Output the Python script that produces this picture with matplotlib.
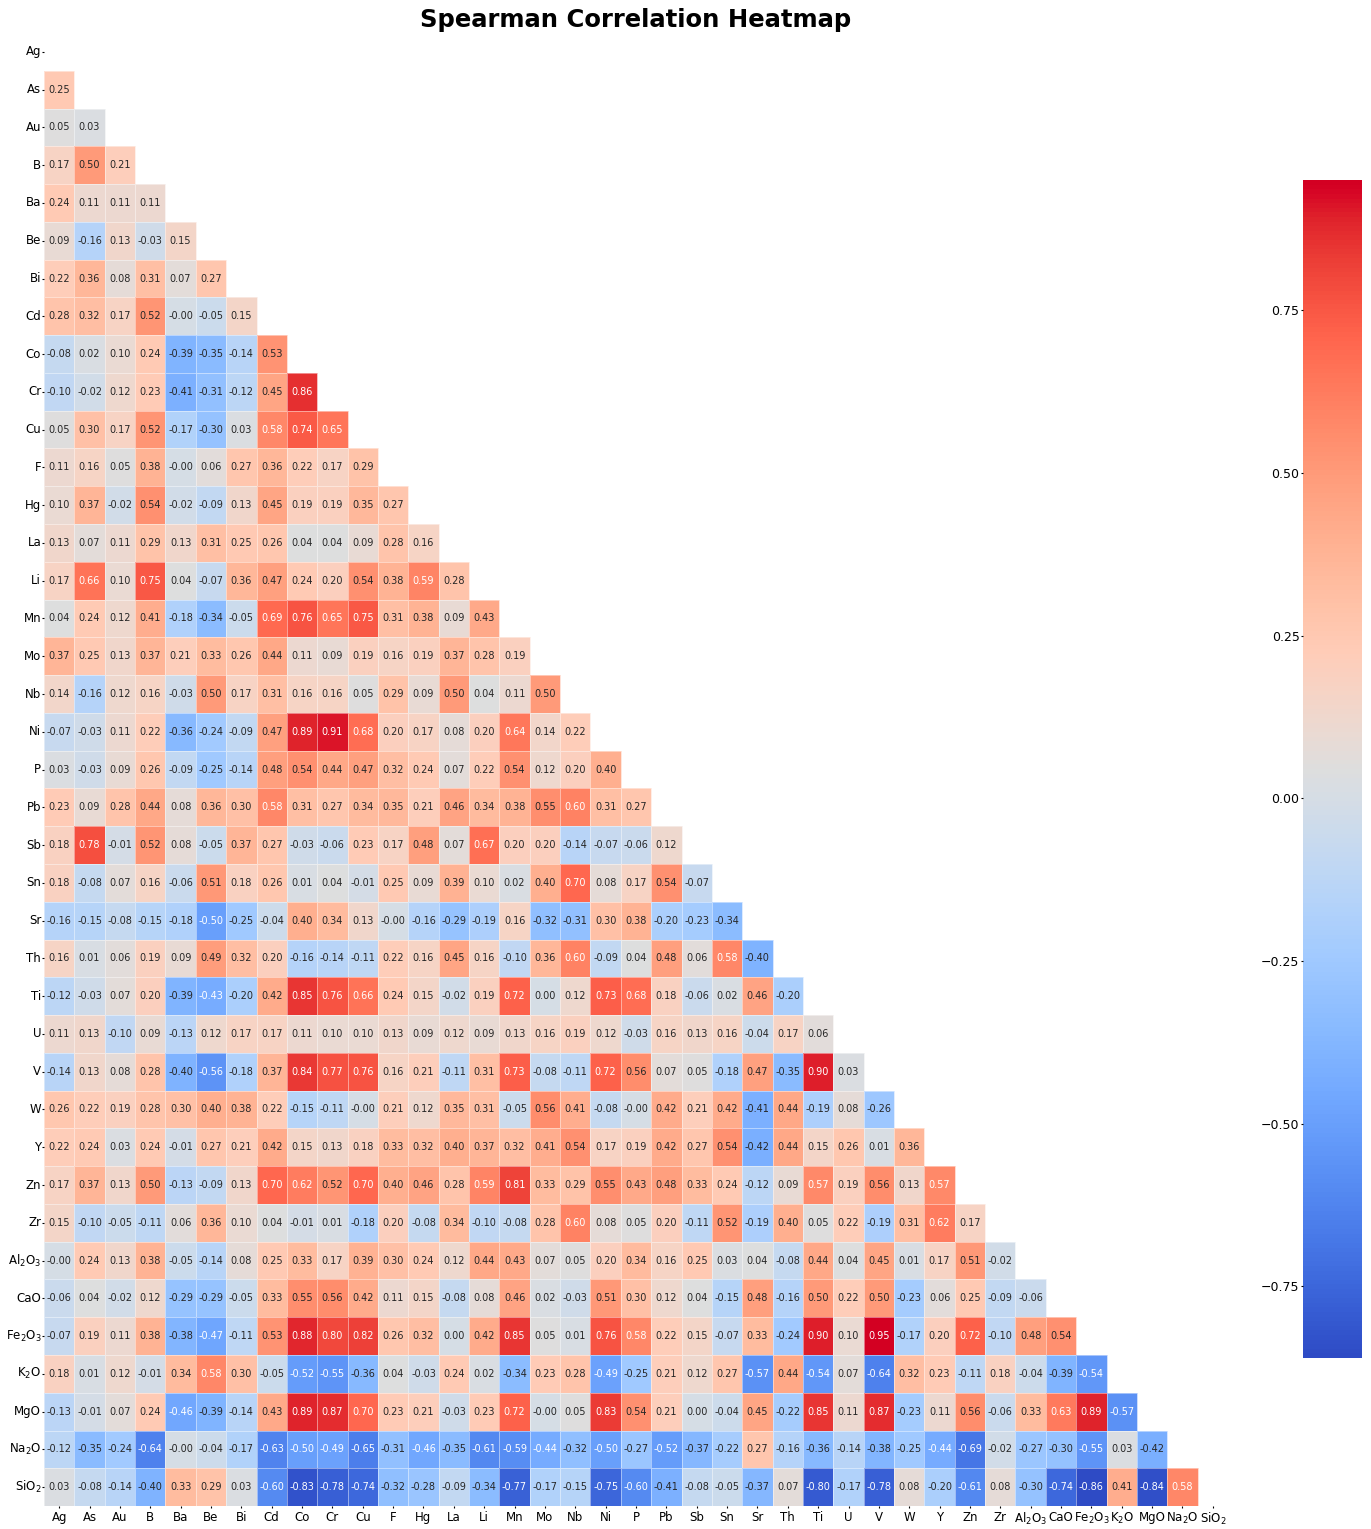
import numpy as np
import matplotlib
matplotlib.use("Agg")
import matplotlib.pyplot as plt
from matplotlib.colors import ListedColormap
import seaborn as sns

labels = ["Ag", "As", "Au", "B", "Ba", "Be", "Bi", "Cd", "Co", "Cr", "Cu", "F", "Hg",
          "La", "Li", "Mn", "Mo", "Nb", "Ni", "P", "Pb", "Sb", "Sn", "Sr", "Th", "Ti",
          "U", "V", "W", "Y", "Zn", "Zr", "Al$_2$O$_3$", "CaO", "Fe$_2$O$_3$", "K$_2$O",
          "MgO", "Na$_2$O", "SiO$_2$"]

# lower triangle of the Spearman matrix, row by row (row i has i values)
r_As = [0.25]
r_Au = [0.05, 0.03]
r_B = [0.17, 0.50, 0.21]
r_Ba = [0.24, 0.11, 0.11, 0.11]
r_Be = [0.09, -0.16, 0.13, -0.03, 0.15]
r_Bi = [0.22, 0.36, 0.08, 0.31, 0.07, 0.27]
r_Cd = [0.28, 0.32, 0.17, 0.52, -0.00, -0.05, 0.15]
r_Co = [-0.08, 0.02, 0.10, 0.24, -0.39, -0.35, -0.14, 0.53]
r_Cr = [-0.10, -0.02, 0.12, 0.23, -0.41, -0.31, -0.12, 0.45, 0.86]
r_Cu = [0.05, 0.30, 0.17, 0.52, -0.17, -0.30, 0.03, 0.58, 0.74, 0.65]
r_F = [0.11, 0.16, 0.05, 0.38, -0.00, 0.06, 0.27, 0.36, 0.22, 0.17, 0.29]
r_Hg = [0.10, 0.37, -0.02, 0.54, -0.02, -0.09, 0.13, 0.45, 0.19, 0.19, 0.35, 0.27]
r_La = [0.13, 0.07, 0.11, 0.29, 0.13, 0.31, 0.25, 0.26, 0.04, 0.04, 0.09, 0.28, 0.16]
r_Li = [0.17, 0.66, 0.10, 0.75, 0.04, -0.07, 0.36, 0.47, 0.24, 0.20, 0.54, 0.38, 0.59,
        0.28]
r_Mn = [0.04, 0.24, 0.12, 0.41, -0.18, -0.34, -0.05, 0.69, 0.76, 0.65, 0.75, 0.31, 0.38,
        0.09, 0.43]
r_Mo = [0.37, 0.25, 0.13, 0.37, 0.21, 0.33, 0.26, 0.44, 0.11, 0.09, 0.19, 0.16, 0.19,
        0.37, 0.28, 0.19]
r_Nb = [0.14, -0.16, 0.12, 0.16, -0.03, 0.50, 0.17, 0.31, 0.16, 0.16, 0.05, 0.29, 0.09,
        0.50, 0.04, 0.11, 0.50]
r_Ni = [-0.07, -0.03, 0.11, 0.22, -0.36, -0.24, -0.09, 0.47, 0.89, 0.91, 0.68, 0.20,
        0.17, 0.08, 0.20, 0.64, 0.14, 0.22]
r_P = [0.03, -0.03, 0.09, 0.26, -0.09, -0.25, -0.14, 0.48, 0.54, 0.44, 0.47, 0.32, 0.24,
       0.07, 0.22, 0.54, 0.12, 0.20, 0.40]
r_Pb = [0.23, 0.09, 0.28, 0.44, 0.08, 0.36, 0.30, 0.58, 0.31, 0.27, 0.34, 0.35, 0.21,
        0.46, 0.34, 0.38, 0.55, 0.60, 0.31, 0.27]
r_Sb = [0.18, 0.78, -0.01, 0.52, 0.08, -0.05, 0.37, 0.27, -0.03, -0.06, 0.23, 0.17,
        0.48, 0.07, 0.67, 0.20, 0.20, -0.14, -0.07, -0.06, 0.12]
r_Sn = [0.18, -0.08, 0.07, 0.16, -0.06, 0.51, 0.18, 0.26, 0.01, 0.04, -0.01, 0.25, 0.09,
        0.39, 0.10, 0.02, 0.40, 0.70, 0.08, 0.17, 0.54, -0.07]
r_Sr = [-0.16, -0.15, -0.08, -0.15, -0.18, -0.50, -0.25, -0.04, 0.40, 0.34, 0.13, -0.00,
        -0.16, -0.29, -0.19, 0.16, -0.32, -0.31, 0.30, 0.38, -0.20, -0.23, -0.34]
r_Th = [0.16, 0.01, 0.06, 0.19, 0.09, 0.49, 0.32, 0.20, -0.16, -0.14, -0.11, 0.22, 0.16,
        0.45, 0.16, -0.10, 0.36, 0.60, -0.09, 0.04, 0.48, 0.06, 0.58, -0.40]
r_Ti = [-0.12, -0.03, 0.07, 0.20, -0.39, -0.43, -0.20, 0.42, 0.85, 0.76, 0.66, 0.24,
        0.15, -0.02, 0.19, 0.72, 0.00, 0.12, 0.73, 0.68, 0.18, -0.06, 0.02, 0.46, -0.20]
r_U = [0.11, 0.13, -0.10, 0.09, -0.13, 0.12, 0.17, 0.17, 0.11, 0.10, 0.10, 0.13, 0.09,
       0.12, 0.09, 0.13, 0.16, 0.19, 0.12, -0.03, 0.16, 0.13, 0.16, -0.04, 0.17, 0.06]
r_V = [-0.14, 0.13, 0.08, 0.28, -0.40, -0.56, -0.18, 0.37, 0.84, 0.77, 0.76, 0.16, 0.21,
       -0.11, 0.31, 0.73, -0.08, -0.11, 0.72, 0.56, 0.07, 0.05, -0.18, 0.47, -0.35, 0.90,
       0.03]
r_W = [0.26, 0.22, 0.19, 0.28, 0.30, 0.40, 0.38, 0.22, -0.15, -0.11, -0.00, 0.21, 0.12,
       0.35, 0.31, -0.05, 0.56, 0.41, -0.08, -0.00, 0.42, 0.21, 0.42, -0.41, 0.44, -0.19,
       0.08, -0.26]
r_Y = [0.22, 0.24, 0.03, 0.24, -0.01, 0.27, 0.21, 0.42, 0.15, 0.13, 0.18, 0.33, 0.32,
       0.40, 0.37, 0.32, 0.41, 0.54, 0.17, 0.19, 0.42, 0.27, 0.54, -0.42, 0.44, 0.15,
       0.26, 0.01, 0.36]
r_Zn = [0.17, 0.37, 0.13, 0.50, -0.13, -0.09, 0.13, 0.70, 0.62, 0.52, 0.70, 0.40, 0.46,
        0.28, 0.59, 0.81, 0.33, 0.29, 0.55, 0.43, 0.48, 0.33, 0.24, -0.12, 0.09, 0.57,
        0.19, 0.56, 0.13, 0.57]
r_Zr = [0.15, -0.10, -0.05, -0.11, 0.06, 0.36, 0.10, 0.04, -0.01, 0.01, -0.18, 0.20,
        -0.08, 0.34, -0.10, -0.08, 0.28, 0.60, 0.08, 0.05, 0.20, -0.11, 0.52, -0.19, 0.40,
        0.05, 0.22, -0.19, 0.31, 0.62, 0.17]
r_Al2O3 = [-0.00, 0.24, 0.13, 0.38, -0.05, -0.14, 0.08, 0.25, 0.33, 0.17, 0.39, 0.30,
           0.24, 0.12, 0.44, 0.43, 0.07, 0.05, 0.20, 0.34, 0.16, 0.25, 0.03, 0.04, -0.08,
           0.44, 0.04, 0.45, 0.01, 0.17, 0.51, -0.02]
r_CaO = [-0.06, 0.04, -0.02, 0.12, -0.29, -0.29, -0.05, 0.33, 0.55, 0.56, 0.42, 0.11,
         0.15, -0.08, 0.08, 0.46, 0.02, -0.03, 0.51, 0.30, 0.12, 0.04, -0.15, 0.48, -0.16,
         0.50, 0.22, 0.50, -0.23, 0.06, 0.25, -0.09, -0.06]
r_Fe2O3 = [-0.07, 0.19, 0.11, 0.38, -0.38, -0.47, -0.11, 0.53, 0.88, 0.80, 0.82, 0.26,
           0.32, 0.00, 0.42, 0.85, 0.05, 0.01, 0.76, 0.58, 0.22, 0.15, -0.07, 0.33, -0.24,
           0.90, 0.10, 0.95, -0.17, 0.20, 0.72, -0.10, 0.48, 0.54]
r_K2O = [0.18, 0.01, 0.12, -0.01, 0.34, 0.58, 0.30, -0.05, -0.52, -0.55, -0.36, 0.04,
         -0.03, 0.24, 0.02, -0.34, 0.23, 0.28, -0.49, -0.25, 0.21, 0.12, 0.27, -0.57,
         0.44, -0.54, 0.07, -0.64, 0.32, 0.23, -0.11, 0.18, -0.04, -0.39, -0.54]
r_MgO = [-0.13, -0.01, 0.07, 0.24, -0.46, -0.39, -0.14, 0.43, 0.89, 0.87, 0.70, 0.23,
         0.21, -0.03, 0.23, 0.72, -0.00, 0.05, 0.83, 0.54, 0.21, 0.00, -0.04, 0.45, -0.22,
         0.85, 0.11, 0.87, -0.23, 0.11, 0.56, -0.06, 0.33, 0.63, 0.89, -0.57]
r_Na2O = [-0.12, -0.35, -0.24, -0.64, -0.00, -0.04, -0.17, -0.63, -0.50, -0.49, -0.65,
          -0.31, -0.46, -0.35, -0.61, -0.59, -0.44, -0.32, -0.50, -0.27, -0.52, -0.37,
          -0.22, 0.27, -0.16, -0.36, -0.14, -0.38, -0.25, -0.44, -0.69, -0.02, -0.27,
          -0.30, -0.55, 0.03, -0.42]
r_SiO2 = [0.03, -0.08, -0.14, -0.40, 0.33, 0.29, 0.03, -0.60, -0.83, -0.78, -0.74, -0.32,
          -0.28, -0.09, -0.34, -0.77, -0.17, -0.15, -0.75, -0.60, -0.41, -0.08, -0.05,
          -0.37, 0.07, -0.80, -0.17, -0.78, 0.08, -0.20, -0.61, 0.08, -0.30, -0.74, -0.86,
          0.41, -0.84, 0.58]

rows = [[], r_As, r_Au, r_B, r_Ba, r_Be, r_Bi, r_Cd, r_Co, r_Cr, r_Cu, r_F, r_Hg, r_La,
        r_Li, r_Mn, r_Mo, r_Nb, r_Ni, r_P, r_Pb, r_Sb, r_Sn, r_Sr, r_Th, r_Ti, r_U, r_V,
        r_W, r_Y, r_Zn, r_Zr, r_Al2O3, r_CaO, r_Fe2O3, r_K2O, r_MgO, r_Na2O, r_SiO2]

n = len(labels)
corr = np.eye(n)
for i, row in enumerate(rows):
    for j, v in enumerate(row):
        corr[i, j] = v
        corr[j, i] = v

mask = np.triu(np.ones_like(corr, dtype=bool))

# coolwarm, but with the more saturated reds/blues seen in the picture
base = plt.get_cmap("coolwarm")(np.linspace(0, 1, 256))[:, :3]
lin = base ** 2.2
m = np.array([[1.3982, -0.3982, 0.0],
              [0.0, 1.0, 0.0],
              [0.0, -0.0429, 1.0429]])
lin = np.clip(lin @ m.T, 0, 1)
srgb = np.where(lin <= 0.0031308, 12.92 * lin, 1.055 * lin ** (1 / 2.4) - 0.055)
cmap = ListedColormap(np.clip(srgb, 0, 1))

fig = plt.figure(figsize=(13.71, 15.29), dpi=100)
ax = fig.add_axes([0.0321, 0.0150, 0.8636, 0.9634])
cax = fig.add_axes([0.9504, 0.1118, 0.043, 0.7704])

sns.heatmap(corr, mask=mask, cmap=cmap, annot=True, fmt=".2f",
            annot_kws={"size": 7}, linewidths=0.5, linecolor=(1, 1, 1, 0.45),
            xticklabels=labels, yticklabels=labels, ax=ax, cbar_ax=cax)

ax.set_title("Spearman Correlation Heatmap", fontsize=17.5, fontweight="bold", pad=4)
ax.tick_params(axis="x", labelsize=8.5, rotation=0, length=1.5, pad=2)
ax.tick_params(axis="y", labelsize=8.5, rotation=0, length=1.5, pad=0.5)

cax.yaxis.set_ticks_position("left")
cax.set_yticks([-0.75, -0.5, -0.25, 0, 0.25, 0.5, 0.75])
cax.tick_params(labelsize=9, length=1.5, pad=1)

fig.savefig("out.png", dpi=100)
